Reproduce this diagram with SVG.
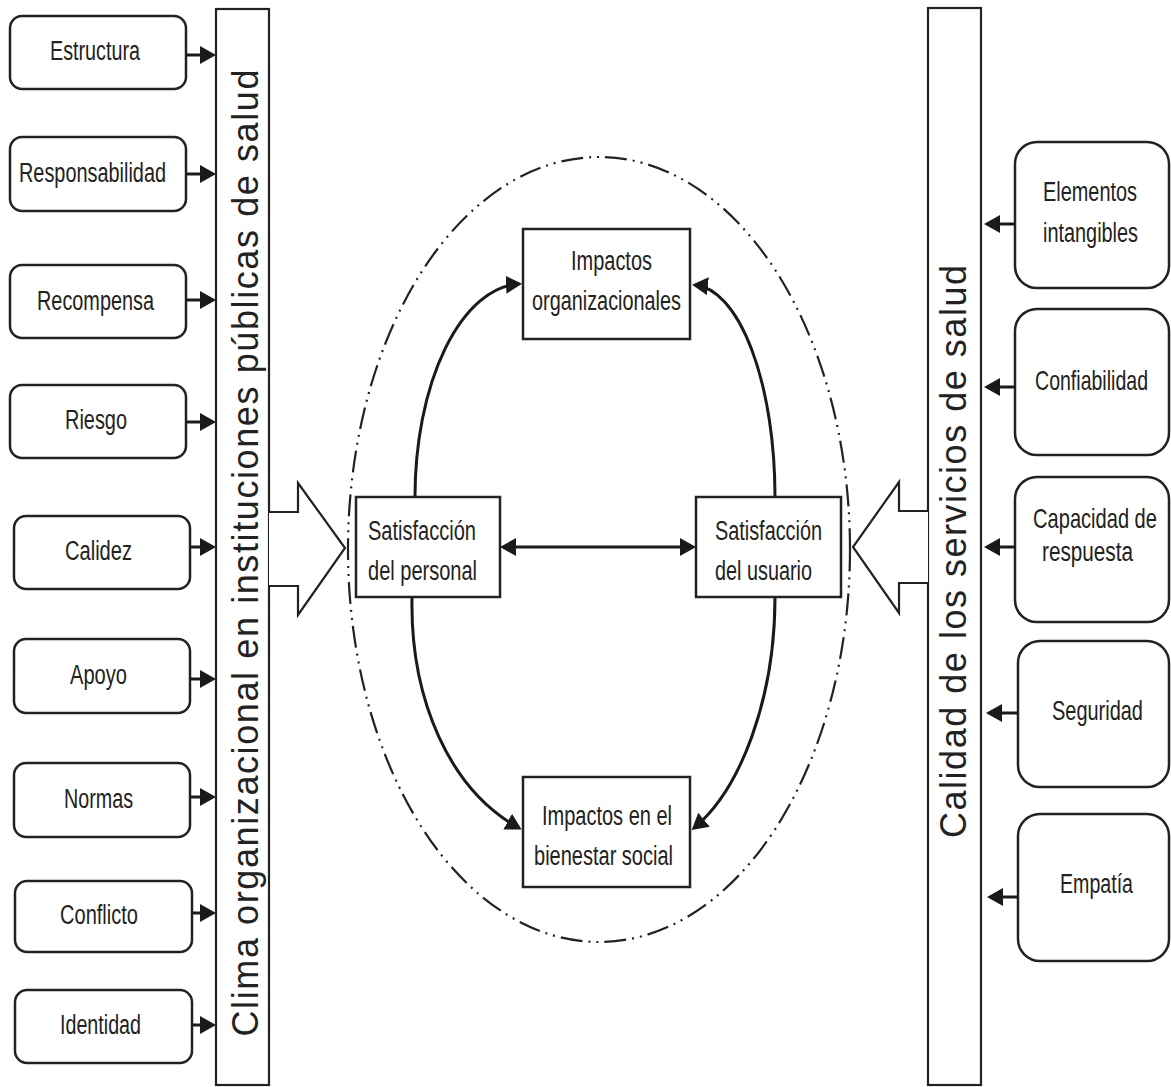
<svg xmlns="http://www.w3.org/2000/svg" width="1171" height="1087" viewBox="0 0 1171 1087">
  <style>
    .box { fill: #fff; stroke: #222; stroke-width: 2.5; }
    .bar { fill: #fff; stroke: #222; stroke-width: 2.2; }
    .big { fill: #fff; stroke: #222; stroke-width: 2.2; stroke-linejoin: miter; }
    .lbl { font-family: "Liberation Sans", Arial, sans-serif; font-size: 27px; fill: #222; text-anchor: middle; }
    .side { font-family: "Liberation Sans", Arial, sans-serif; font-size: 36px; fill: #222; text-anchor: middle; }
    .con { fill: none; stroke: #1a1a1a; stroke-width: 3; }
    .orbit { fill: none; stroke: #222; stroke-width: 2.2; stroke-dasharray: 22 6 2 6 2 6; }
  </style>
  <defs>
    <marker id="head" markerUnits="userSpaceOnUse" viewBox="0 0 16 20" markerWidth="16" markerHeight="20" refX="13" refY="10" orient="auto">
      <path d="M0,1 L16,10 L0,19 Z" fill="#1a1a1a"/>
    </marker>
    <marker id="headStart" markerUnits="userSpaceOnUse" viewBox="0 0 16 20" markerWidth="16" markerHeight="20" refX="3" refY="10" orient="auto">
      <path d="M16,1 L0,10 L16,19 Z" fill="#1a1a1a"/>
    </marker>
  </defs>

  <rect width="1171" height="1087" fill="#fff"/>

  <!-- climate factors (left column) -->
  <g id="estructura"><rect class="box" x="10" y="16" width="176" height="73" rx="12"/><text class="lbl" x="95" y="60" textLength="90" lengthAdjust="spacingAndGlyphs">Estructura</text></g>
  <g id="responsabilidad"><rect class="box" x="10" y="137" width="176" height="74" rx="12"/><text class="lbl" x="92.5" y="182" textLength="147" lengthAdjust="spacingAndGlyphs">Responsabilidad</text></g>
  <g id="recompensa"><rect class="box" x="10" y="265" width="176" height="73" rx="12"/><text class="lbl" x="95.5" y="310" textLength="117" lengthAdjust="spacingAndGlyphs">Recompensa</text></g>
  <g id="riesgo"><rect class="box" x="10" y="385" width="176" height="73" rx="12"/><text class="lbl" x="96" y="429" textLength="62" lengthAdjust="spacingAndGlyphs">Riesgo</text></g>
  <g id="calidez"><rect class="box" x="14" y="516" width="176" height="73" rx="12"/><text class="lbl" x="98.5" y="560" textLength="67" lengthAdjust="spacingAndGlyphs">Calidez</text></g>
  <g id="apoyo"><rect class="box" x="14" y="639" width="176" height="74" rx="12"/><text class="lbl" x="98.5" y="684" textLength="57" lengthAdjust="spacingAndGlyphs">Apoyo</text></g>
  <g id="normas"><rect class="box" x="14" y="763" width="176" height="74" rx="12"/><text class="lbl" x="98.5" y="808" textLength="69" lengthAdjust="spacingAndGlyphs">Normas</text></g>
  <g id="conflicto"><rect class="box" x="15" y="881" width="177" height="71" rx="12"/><text class="lbl" x="99" y="924" textLength="78" lengthAdjust="spacingAndGlyphs">Conflicto</text></g>
  <g id="identidad"><rect class="box" x="15" y="990" width="177" height="73" rx="12"/><text class="lbl" x="100.5" y="1034" textLength="81" lengthAdjust="spacingAndGlyphs">Identidad</text></g>

  <!-- organisational climate bar with its hollow arrow -->
  <g id="clima">
    <rect class="bar" x="216" y="9" width="53" height="1076"/>
    <polyline class="big" points="269,512 298,512 298,483 345,548 298,615 298,586 269,586"/>
    <text class="side" transform="translate(258,553) rotate(-90)" x="0" y="0" textLength="967" lengthAdjust="spacing">Clima organizacional en instituciones públicas de salud</text>
  </g>

  <!-- service quality bar with its hollow arrow -->
  <g id="calidad">
    <rect class="bar" x="928" y="8" width="53" height="1077"/>
    <polyline class="big" points="928,511 899,511 899,482 853,547 899,613 899,583 928,583"/>
    <text class="side" transform="translate(966,551.5) rotate(-90)" x="0" y="0" textLength="573" lengthAdjust="spacing">Calidad de los servicios de salud</text>
  </g>

  <!-- quality dimensions (right column); narrow labels are squeezed with a horizontal scale -->
  <g id="elementos"><rect class="box" x="1015" y="142" width="154" height="146" rx="22"/><text class="lbl" x="1090" y="201" textLength="94" lengthAdjust="spacingAndGlyphs">Elementos</text><text class="lbl" x="1090.5" y="242" textLength="95" lengthAdjust="spacingAndGlyphs">intangibles</text></g>
  <g id="confiabilidad"><rect class="box" x="1015" y="309" width="154" height="146" rx="22"/><text class="lbl" transform="translate(1091.5,390) scale(0.724,1)">Confiabilidad</text></g>
  <g id="capacidad"><rect class="box" x="1015" y="477" width="154" height="145" rx="22"/><text class="lbl" transform="translate(1095,528) scale(0.744,1)">Capacidad de</text><text class="lbl" x="1087.5" y="561" textLength="91" lengthAdjust="spacingAndGlyphs">respuesta</text></g>
  <g id="seguridad"><rect class="box" x="1018" y="641" width="151" height="146" rx="22"/><text class="lbl" transform="translate(1097.5,720) scale(0.739,1)">Seguridad</text></g>
  <g id="empatia"><rect class="box" x="1018" y="814" width="151" height="147" rx="22"/><text class="lbl" x="1096.5" y="893" textLength="73" lengthAdjust="spacingAndGlyphs">Empatía</text></g>

  <!-- dash-dot boundary around the satisfaction model -->
  <ellipse class="orbit" cx="599" cy="549.5" rx="251" ry="392.5"/>

  <!-- satisfaction and impact nodes -->
  <g id="impactos-org"><rect class="box" x="523" y="229" width="167" height="110"/><text class="lbl" x="611.5" y="270" textLength="81" lengthAdjust="spacingAndGlyphs">Impactos</text><text class="lbl" x="606.5" y="310" textLength="149" lengthAdjust="spacingAndGlyphs">organizacionales</text></g>
  <g id="sat-personal"><rect class="box" x="356" y="497" width="144" height="100"/><text class="lbl" x="422" y="540" textLength="108" lengthAdjust="spacingAndGlyphs">Satisfacción</text><text class="lbl" x="422.5" y="580" textLength="109" lengthAdjust="spacingAndGlyphs">del personal</text></g>
  <g id="sat-usuario"><rect class="box" x="696" y="497" width="145" height="100"/><text class="lbl" x="768.5" y="540" textLength="107" lengthAdjust="spacingAndGlyphs">Satisfacción</text><text class="lbl" x="763.5" y="580" textLength="97" lengthAdjust="spacingAndGlyphs">del usuario</text></g>
  <g id="impactos-social"><rect class="box" x="523" y="777" width="167" height="110"/><text class="lbl" x="607" y="825" textLength="130" lengthAdjust="spacingAndGlyphs">Impactos en el</text><text class="lbl" x="603.5" y="865" textLength="139" lengthAdjust="spacingAndGlyphs">bienestar social</text></g>

  <!-- connectors -->
  <g id="connectors">
    <line class="con" x1="186" y1="55" x2="213" y2="55" marker-end="url(#head)"/>
    <line class="con" x1="186" y1="174" x2="213" y2="174" marker-end="url(#head)"/>
    <line class="con" x1="186" y1="300" x2="213" y2="300" marker-end="url(#head)"/>
    <line class="con" x1="186" y1="422" x2="213" y2="422" marker-end="url(#head)"/>
    <line class="con" x1="190" y1="547" x2="213" y2="547" marker-end="url(#head)"/>
    <line class="con" x1="190" y1="679" x2="213" y2="679" marker-end="url(#head)"/>
    <line class="con" x1="190" y1="797" x2="213" y2="797" marker-end="url(#head)"/>
    <line class="con" x1="192" y1="913" x2="213" y2="913" marker-end="url(#head)"/>
    <line class="con" x1="192" y1="1025" x2="213" y2="1025" marker-end="url(#head)"/>

    <line class="con" x1="1015" y1="224" x2="987" y2="224" marker-end="url(#head)"/>
    <line class="con" x1="1015" y1="387" x2="987" y2="387" marker-end="url(#head)"/>
    <line class="con" x1="1015" y1="547" x2="987" y2="547" marker-end="url(#head)"/>
    <line class="con" x1="1018" y1="713" x2="989" y2="713" marker-end="url(#head)"/>
    <line class="con" x1="1018" y1="897" x2="990" y2="897" marker-end="url(#head)"/>

    <line class="con" x1="503" y1="547" x2="693" y2="547" marker-start="url(#headStart)" marker-end="url(#head)"/>

    <path class="con" d="M415,497 A107,213 0 0 1 519,284" marker-end="url(#head)"/>
    <path class="con" d="M775,497 A83,212 0 0 0 695,285" marker-end="url(#head)"/>
    <path class="con" d="M412,597 C410,700 450,790 519,828" marker-end="url(#head)"/>
    <path class="con" d="M775,597 C775,700 740,790 694,828" marker-end="url(#head)"/>
  </g>
</svg>
